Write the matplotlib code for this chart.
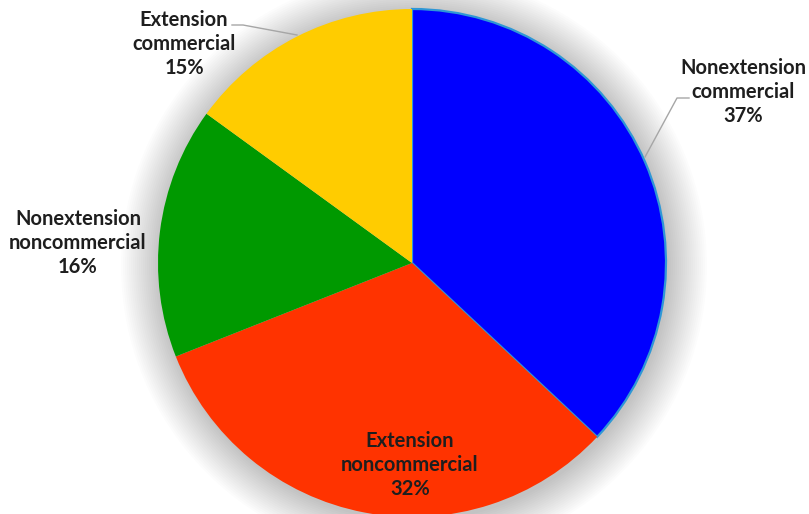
#Pie chart of extension / commercial breakdown

import matplotlib.pyplot as plt
from matplotlib.patches import Circle

labels = ['Nonextension\ncommercial', 'Extension\nnoncommercial', 'Nonextension\nnoncommercial', 'Extension\ncommercial']
shares = [37, 32, 16, 15]
colors = ['#0000FF', '#FF3300', '#009900', '#FFCC00']

plt.rcParams['font.family'] = ['Lato', 'DejaVu Sans']

fig = plt.figure(figsize=(8.09,5.14), dpi=100)
ax = fig.add_axes([0,0,1,1])

cx = 412
cy = 251
rad = 254

#soft glow around the pie
for k in range(20):
	ax.add_patch(Circle((cx+2,cy-3), rad+1+k*2.0, color='#000000', alpha=0.01, lw=0, zorder=0))

wedges, texts = ax.pie(shares, colors=colors, startangle=90, counterclock=False,
	center=(cx,cy), radius=rad, frame=True,
	wedgeprops=dict(linewidth=0))
wedges[0].set_edgecolor('#2E97D6')
wedges[0].set_linewidth(1.6)
ax.set_xlim(0,809)
ax.set_ylim(0,514)
ax.set_aspect('equal')
ax.axis('off')

# label positions in pixel space (y measured down from the top)
labelpos = [(743,92), (410,465), (78,243), (184,44)]

for index in range(len(shares)):
	x, y = labelpos[index]
	ax.text(x, 514-y, labels[index] + '\n' + str(shares[index]) + '%', ha='center', va='center',
		fontsize=14.5, fontweight='bold', color='#1e1e1e', linespacing=1.25, zorder=5)

# leader lines for the two outside labels
ax.plot([689,677,645], [514-98,514-98,514-157], color='#a6a6a6', lw=1, zorder=4)
ax.plot([232,243,297], [514-25,514-25,514-35], color='#a6a6a6', lw=1, zorder=4)

plt.savefig('out.png', dpi=100)
plt.close()
